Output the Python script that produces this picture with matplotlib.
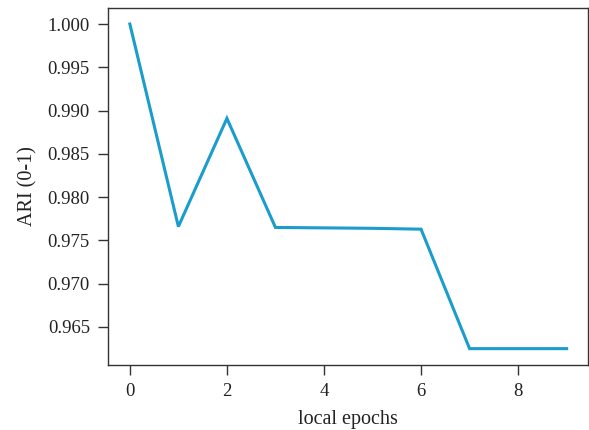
import matplotlib
matplotlib.use("Agg")
import matplotlib.pyplot as plt

epochs = [0, 1, 2, 3, 4, 5, 6, 7, 8, 9]
ari = [1.0000, 0.9766, 0.9891, 0.9765, 0.97645, 0.9764, 0.9763, 0.9625, 0.9625, 0.9625]
x_ticks = [0, 2, 4, 6, 8]
y_ticks = [1.000, 0.995, 0.990, 0.985, 0.980, 0.975, 0.970, 0.965]

plt.rcParams["font.family"] = ["Liberation Serif", "DejaVu Serif"]

fig = plt.figure(figsize=(5.89, 4.30), dpi=100)
ax = fig.add_axes([108 / 589, 1 - 365 / 430, 480 / 589, 357 / 430])

ax.plot(epochs, ari, color="#1a9ccc", linewidth=2.2, solid_joinstyle="miter")

ax.set_xlim(-0.45, 9.44)
ax.set_ylim(0.96061, 1.00185)
ax.set_xticks(x_ticks)
ax.set_yticks(y_ticks)
ax.set_yticklabels([f"{v:.3f}" for v in y_ticks])

for s in ax.spines.values():
    s.set_color("#333333")
    s.set_linewidth(1.0)
ax.tick_params(direction="out", length=7, width=1.0, color="#333333",
               labelsize=13.5, labelcolor="#222222", pad=6)

ax.set_xlabel("local epochs", fontsize=14.5, color="#222222", labelpad=7)
ax.set_ylabel("ARI (0-1)", fontsize=14.5, color="#222222", labelpad=7)

fig.savefig("out.png", dpi=100)
